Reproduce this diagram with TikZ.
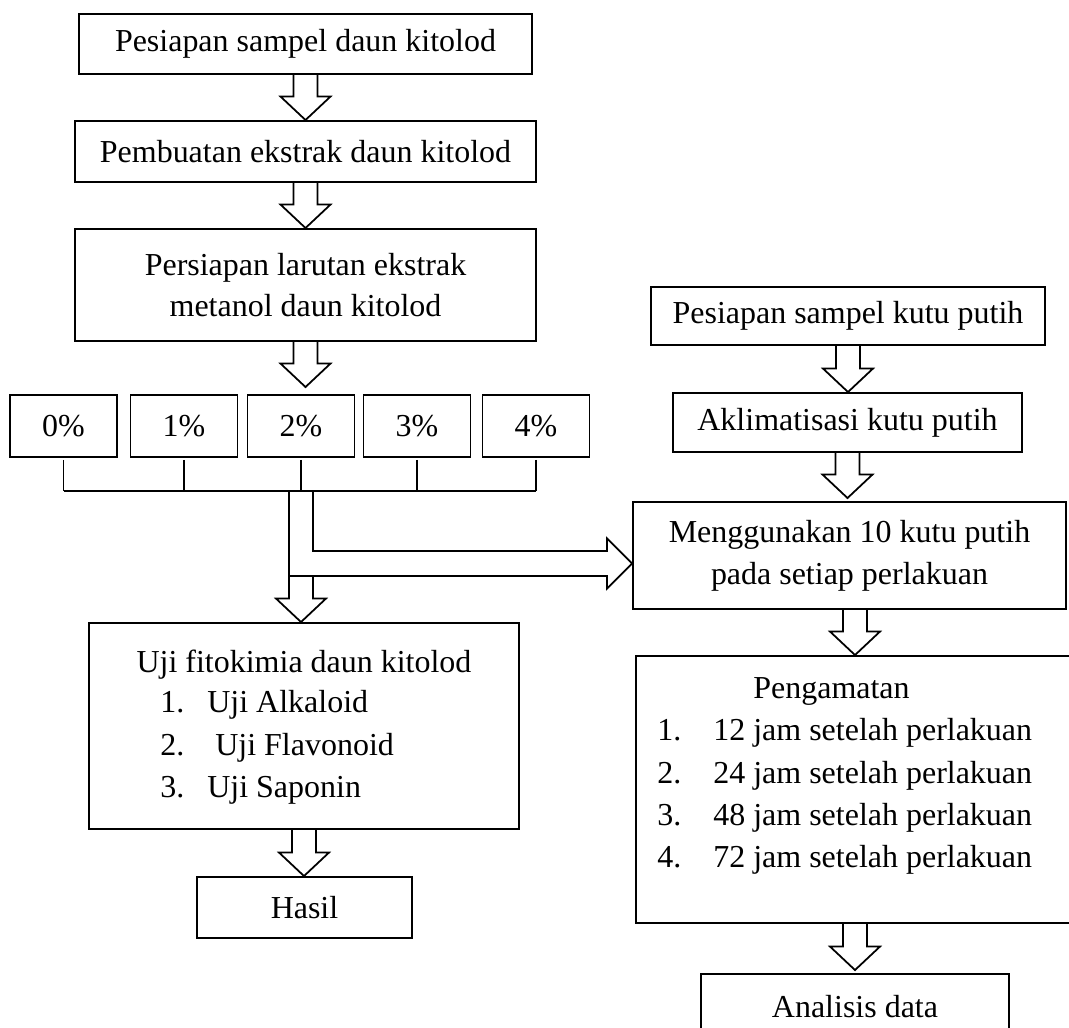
\documentclass[tikz,border=0pt]{standalone}
\usepackage{fontspec}
\setmainfont{Liberation Serif}
\usetikzlibrary{calc}

\tikzset{
  box/.style={draw, line width=1.1pt, inner sep=0pt, align=center,
              font=\fontsize{18.2}{23.8}\selectfont},
  wh/.style 2 args={minimum width=#1*0.02cm, minimum height=#2*0.02cm},
  txt/.style={anchor=base west, inner sep=0pt, font=\fontsize{18.2}{23.8}\selectfont},
  hollow/.style={draw, line width=1pt, line join=miter},
  busline/.style={line width=1pt}
}

\newcommand{\hollowdown}[2]{
  \draw[hollow] let \p1 = (#1), \p2 = (#2) in
       (\x1 - 0.24cm, \y1) -- (\x1 - 0.24cm, \y2 + 0.47cm)
    -- (\x1 - 0.5cm, \y2 + 0.47cm) -- (\x1, \y2)
    -- (\x1 + 0.5cm, \y2 + 0.47cm) -- (\x1 + 0.24cm, \y2 + 0.47cm)
    -- (\x1 + 0.24cm, \y1);
}

\begin{document}
\begin{tikzpicture}[x=0.02cm, y=-0.02cm]

  \useasboundingbox (0, 0) rectangle (1069, 1028);
  \fill[white] (0, 0) rectangle (1069, 1028);
  \clip (0, 0) rectangle (1069, 1028);

  % left column
  \node[box, wh={453}{60}] (prep) at (305.5, 44) {Pesiapan sampel daun kitolod};
  \node[box, wh={461}{61}] (ekstrak) at (305.5, 151.5) {Pembuatan ekstrak daun kitolod};
  \node[box, wh={461}{112}] (larutan) at (305.5, 285) {Persiapan larutan ekstrak\\metanol daun kitolod};

  \foreach \xx/\pc in {63.5/0, 184/1, 301/2, 417/3, 536/4} {
    \node[box, wh={107}{62}] (p\pc) at (\xx, 426) {\pc\%};
  }

  \node[box, wh={430}{206}] (uji) at (304, 726) {};
  \node[txt, anchor=base] (ujititle) at (304, 672) {Uji fitokimia daun kitolod};
  \foreach \yy/\xs/\lbl [count=\n] in {712/207/Uji Alkaloid, 755/215/Uji Flavonoid, 797/207/Uji Saponin} {
    \node[txt] (ujinum\n) at (160, \yy) {\n.};
    \node[txt] (uji\n) at (\xs, \yy) {\lbl};
  }
  \node[box, wh={215}{61}] (hasil) at (304.5, 907.5) {Hasil};

  % right column
  \node[box, wh={394}{58}] (kutu) at (848, 316) {Pesiapan sampel kutu putih};
  \node[box, wh={349}{59}] (aklim) at (847.5, 422.5) {Aklimatisasi kutu putih};
  \node[box, wh={433}{107}] (meng) at (849.5, 555.5) {Menggunakan 10 kutu putih\\pada setiap perlakuan};

  \node[box, wh={444}{267}] (amat) at (858, 789.5) {};
  \node[txt] (amattitle) at (753, 698) {Pengamatan};
  \foreach \yy/\hr [count=\n] in {740/12, 783/24, 825/48, 867/72} {
    \node[txt] (amatnum\n) at (657, \yy) {\n.};
    \node[txt] (amat\n) at (713, \yy) {\hr\ jam setelah perlakuan};
  }
  \node[box, wh={308}{66}] (analisis) at (855, 1007) {Analisis data};

  % bracket under the concentrations
  \coordinate (bus) at (0, 491);
  \foreach \pc in {0,...,4} {
    \draw[busline] ([yshift=-0.04cm]p\pc.south) -- (p\pc.south |- bus);
  }
  \draw[busline] (p0.south |- bus) -- (p4.south |- bus);

  % hollow arrows
  \hollowdown{prep.south}{ekstrak.north}
  \hollowdown{ekstrak.south}{larutan.north}
  \hollowdown{larutan.south}{[yshift=0.14cm]p2.north}
  \hollowdown{uji.south}{hasil.north}

  \hollowdown{kutu.south}{aklim.north}
  \hollowdown{aklim.south}{[yshift=0.06cm]meng.north}
  \hollowdown{analisis.north |- meng.south}{amat.north}
  \hollowdown{analisis.north |- amat.south}{[yshift=0.06cm]analisis.north}

  % split arrow from the bracket
  \coordinate (fork) at (301, 563.5);
  \draw[hollow] let \p1 = (p2.south |- bus), \p2 = (meng.west |- fork) in
       (\x1 + 0.24cm, \y1) -- (\x1 + 0.24cm, \y2 + 0.25cm)
    -- (\x2 - 0.5cm, \y2 + 0.25cm) -- (\x2 - 0.5cm, \y2 + 0.5cm) -- (\x2, \y2)
    -- (\x2 - 0.5cm, \y2 - 0.5cm) -- (\x2 - 0.5cm, \y2 - 0.25cm)
    -- (\x1 - 0.24cm, \y2 - 0.25cm) -- (\x1 - 0.24cm, \y1);
  \hollowdown{[yshift=-0.25cm]fork}{uji.north}

\end{tikzpicture}
\end{document}
